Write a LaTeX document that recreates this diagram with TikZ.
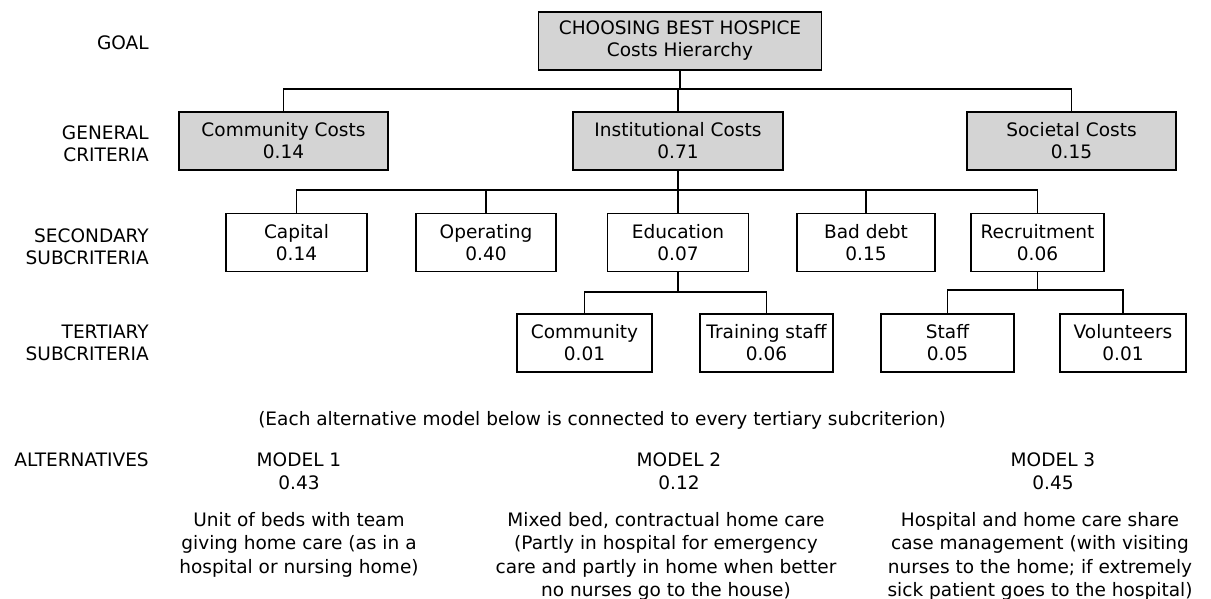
\documentclass[tikz,border=0pt]{standalone}
\usepackage{fontspec}
\setmainfont{DejaVu Sans}
\usetikzlibrary{positioning}

\tikzset{
  txt/.style={font=\fontsize{13.9}{16.5}\selectfont, align=center, inner sep=0.75pt},
  lbl/.style={txt, align=right, anchor=east},
  alttxt/.style={txt, font=\fontsize{13.9}{17.5}\selectfont},
  box/.style={txt, draw, line width=1pt, minimum height=58*0.75pt},
  shbox/.style={box, fill=black!17},
  link/.style={line width=0.9pt}
}

\begin{document}
\begin{tikzpicture}[x=0.75pt,y=0.75pt,yscale=-1,xscale=1]

\useasboundingbox (0,0) rectangle (1211,599);

% level labels
\node[lbl] (lgoal) at (150,43) {GOAL};
\node[lbl] (lgen) at (150,144) {GENERAL\\CRITERIA};
\node[lbl] (lsec) at (150,247) {SECONDARY\\SUBCRITERIA};
\node[lbl] (lter) at (150,343) {TERTIARY\\SUBCRITERIA};
\node[lbl] (lalt) at (150,460) {ALTERNATIVES};

% goal
\node[shbox, minimum width=283*0.75pt] (goal) at (680,41) {CHOOSING BEST HOSPICE\\Costs Hierarchy};

% general criteria
\node[shbox, minimum width=209*0.75pt] (comm) at (283.5,141) {Community Costs\\0.14};
\node[shbox, minimum width=210*0.75pt] (inst) at (678,141) {Institutional Costs\\0.71};
\node[shbox, minimum width=209*0.75pt] (soc) at (1071.5,141) {Societal Costs\\0.15};

% secondary subcriteria
\node[box, minimum width=141*0.75pt] (capital) at (296.5,242.5) {Capital\\0.14};
\node[box, minimum width=140*0.75pt] (operating) at (486,242.5) {Operating\\0.40};
\node[box, minimum width=141*0.75pt] (education) at (678,242.5) {Education\\0.07};
\node[box, minimum width=138*0.75pt] (baddebt) at (866,242.5) {Bad debt\\0.15};
\node[box, minimum width=133*0.75pt] (recruit) at (1037.5,242.5) {Recruitment\\0.06};

% tertiary subcriteria
\node[box, minimum width=135*0.75pt] (community) at (584.5,343) {Community\\0.01};
\node[box, minimum width=133*0.75pt] (training) at (766.5,343) {Training staff\\0.06};
\node[box, minimum width=133*0.75pt] (staff) at (947.5,343) {Staff\\0.05};
\node[box, minimum width=126*0.75pt] (volunteers) at (1123,343) {Volunteers\\0.01};

% junctions
\coordinate (j0) at (goal.south |- 0,89);
\coordinate (j1) at (inst.south |- 0,190);
\coordinate (j2) at (education.south |- 0,292);
\coordinate (j3) at (recruit.south |- 0,290);

\draw[link] (goal.south) -- (j0);
\draw[link] (j0) -| (comm.north);
\draw[link] (j0) -| (inst.north);
\draw[link] (j0) -| (soc.north);

\draw[link] (inst.south) -- (j1);
\draw[link] (j1) -| (capital.north);
\draw[link] (j1) -| (operating.north);
\draw[link] (j1) -- (education.north);
\draw[link] (j1) -| (baddebt.north);
\draw[link] (j1) -| (recruit.north);

\draw[link] (education.south) -- (j2);
\draw[link] (j2) -| (community.north);
\draw[link] (j2) -| (training.north);

\draw[link] (recruit.south) -- (j3);
\draw[link] (j3) -| (staff.north);
\draw[link] (j3) -| (volunteers.north);

% alternatives
\node[txt] (note) at (602,420) {(Each alternative model below is connected to every tertiary subcriterion)};

\node[alttxt] (model1) at (299,471.5) {MODEL 1\\0.43};
\node[alttxt] (model2) at (679,471.5) {MODEL 2\\0.12};
\node[alttxt] (model3) at (1053,471.5) {MODEL 3\\0.45};

\node[alttxt, anchor=north] (desc1) at (299,511) {Unit of beds with team\\giving home care (as in a\\hospital or nursing home)};
\node[alttxt, anchor=north] (desc2) at (666,511) {Mixed bed, contractual home care\\(Partly in hospital for emergency\\care and partly in home when better\\no nurses go to the house)};
\node[alttxt, anchor=north] (desc3) at (1040,511) {Hospital and home care share\\case management (with visiting\\nurses to the home; if extremely\\sick patient goes to the hospital)};

\end{tikzpicture}
\end{document}
